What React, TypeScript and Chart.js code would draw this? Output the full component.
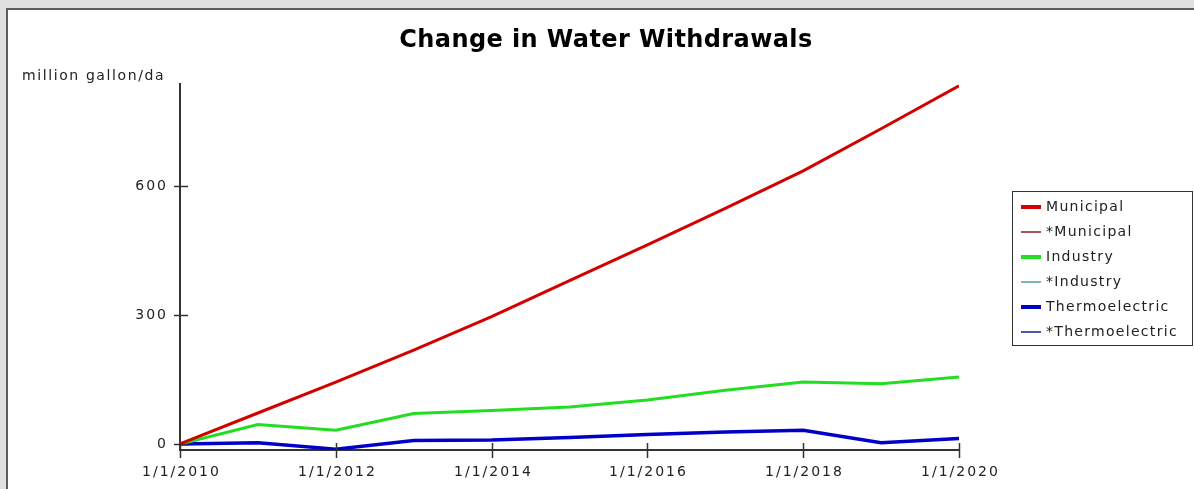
import React, { useEffect, useRef } from "react";
import { Chart, registerables } from "chart.js";

Chart.register(...registerables);

const years = [2010, 2011, 2012, 2013, 2014, 2015, 2016, 2017, 2018, 2019, 2020];
const municipal = [0, 72, 144, 218, 296, 380, 463, 548, 635, 733, 833];
const industry = [0, 45, 32, 71, 78, 86, 102, 125, 144, 140, 156];
const thermoelectric = [0, 3, -12, 8, 9, 15, 22, 28, 32, 3, 13];
const starMunicipal: number[] = [];
const starIndustry: number[] = [];
const starThermoelectric: number[] = [];

const seriesLabels = ["Municipal", "*Municipal", "Industry", "*Industry", "Thermoelectric", "*Thermoelectric"];
const seriesColors = ["#d40000", "#8b1c1c", "#22dd22", "#4a9e9a", "#0000c8", "#1c1c80"];
const seriesWidths = [3, 1.5, 3, 1.5, 3.5, 1.5];
const seriesValues = [municipal, starMunicipal, industry, starIndustry, thermoelectric, starThermoelectric];

const yTickValues = [0, 300, 600];
const xTickValues = [2010, 2012, 2014, 2016, 2018, 2020];
const titleText = "Change in Water Withdrawals";
const yAxisTitle = "million gallon/da";

const FONT = '"DejaVu Sans", Verdana, sans-serif';

const decorPlugin = {
  id: "decor",
  afterDraw(chart: any) {
    const ctx = chart.ctx as CanvasRenderingContext2D;
    const area = chart.chartArea;
    const xs = chart.scales.x;
    const ys = chart.scales.y;
    ctx.save();
    const c: any = ctx;

    // Title
    ctx.fillStyle = "#000";
    ctx.font = `bold 24px ${FONT}`;
    c.letterSpacing = "0.4px";
    ctx.textAlign = "center";
    ctx.textBaseline = "alphabetic";
    ctx.fillText(titleText, 606, 47);

    // Y axis title
    ctx.fillStyle = "#222";
    ctx.font = `14px ${FONT}`;
    c.letterSpacing = "1.6px";
    ctx.textAlign = "left";
    ctx.fillText(yAxisTitle, 22, 80);

    // Y ticks
    ctx.strokeStyle = "#333";
    ctx.lineWidth = 1.5;
    c.letterSpacing = "2px";
    ctx.textAlign = "right";
    ctx.textBaseline = "middle";
    for (const v of yTickValues) {
      const py = Math.round(ys.getPixelForValue(v)) + 0.5;
      ctx.beginPath();
      ctx.moveTo(area.left - 6, py);
      ctx.lineTo(area.left + 8, py);
      ctx.stroke();
      ctx.fillText(String(v), 168, py);
    }

    // X ticks
    ctx.textAlign = "center";
    ctx.textBaseline = "alphabetic";
    for (const v of xTickValues) {
      const px = Math.round(xs.getPixelForValue(v)) + 0.5;
      ctx.beginPath();
      ctx.moveTo(px, area.bottom - 7);
      ctx.lineTo(px, area.bottom + 8);
      ctx.stroke();
      ctx.fillText(`1/1/${v}`, px + 1, 476);
    }

    // Legend
    ctx.strokeStyle = "#333";
    ctx.lineWidth = 1;
    ctx.strokeRect(1012.5, 191.5, 180, 154);
    ctx.font = `14px ${FONT}`;
    c.letterSpacing = "1.3px";
    ctx.textAlign = "left";
    ctx.textBaseline = "middle";
    chart.data.datasets.forEach((ds: any, i: number) => {
      const cy = 207 + 25 * i;
      ctx.strokeStyle = ds.borderColor;
      ctx.lineWidth = i % 2 === 0 ? 4 : 1.5;
      ctx.beginPath();
      ctx.moveTo(1021, cy);
      ctx.lineTo(1041, cy);
      ctx.stroke();
      ctx.fillStyle = "#222";
      ctx.fillText(ds.label, 1046, cy);
    });
    ctx.restore();
  },
};

export default function App() {
  const ref = useRef<HTMLCanvasElement | null>(null);
  useEffect(() => {
    if (!ref.current) return;
    const chart = new Chart(ref.current, {
      type: "line",
      data: {
        datasets: seriesLabels.map((label, i) => ({
          label,
          data: seriesValues[i].map((v, j) => ({ x: years[j], y: v })),
          borderColor: seriesColors[i],
          backgroundColor: seriesColors[i],
          borderWidth: seriesWidths[i],
          pointRadius: 0,
          tension: 0,
          fill: false,
        })),
      },
      options: {
        responsive: false,
        animation: false,
        devicePixelRatio: 1,
        layout: { padding: { left: 0, top: 84, right: 235, bottom: 0 } },
        plugins: { legend: { display: false }, title: { display: false }, tooltip: { enabled: false } },
        scales: {
          x: {
            type: "linear",
            min: 2010,
            max: 2020,
            grid: { display: false },
            border: { display: true, color: "#333", width: 2 },
            ticks: { display: false },
            afterFit: (s: any) => {
              s.height = 39;
            },
          },
          y: {
            type: "linear",
            min: -14,
            max: 837,
            grid: { display: false },
            border: { display: true, color: "#333", width: 2 },
            ticks: { display: false },
            afterFit: (s: any) => {
              s.width = 180;
            },
          },
        },
      } as any,
      plugins: [decorPlugin],
    });
    return () => chart.destroy();
  }, []);

  return (
    <div style={{ position: "fixed", left: 0, top: 0, width: 1194, height: 489, background: "#e0e0e0", overflow: "hidden" }}>
      <div
        style={{
          position: "absolute",
          left: 6,
          top: 8,
          width: 1200,
          height: 500,
          background: "#fff",
          borderLeft: "2px solid #5c5c5c",
          borderTop: "2px solid #5c5c5c",
        }}
      />
      <canvas ref={ref} width={1194} height={489} style={{ position: "absolute", left: 0, top: 0 }} />
    </div>
  );
}
